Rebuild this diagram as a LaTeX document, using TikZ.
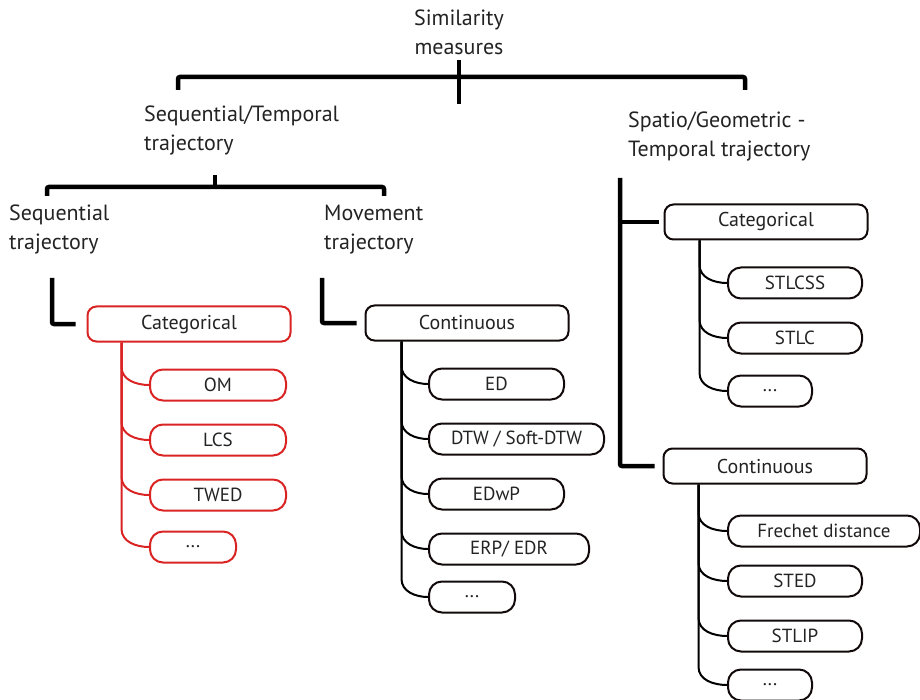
\documentclass[tikz,border=0pt]{standalone}
\usepackage{fontspec}
\setmainfont{PT Sans}
\usetikzlibrary{calc,positioning}
\definecolor{catred}{RGB}{218,36,36}
\definecolor{edgeline}{RGB}{18,10,10}
\definecolor{labeltext}{RGB}{35,35,35}
\tikzset{heading/.style={align=left,inner sep=0pt,text=labeltext,
 font=\fontsize{22}{29}\selectfont},
 bracket/.style={line width=4.5pt,rounded corners=2pt},
 groupbox/.style={draw=edgeline,fill=white,line width=2pt,rounded corners=9pt,
 minimum width=203pt,minimum height=35pt,text=labeltext,font=\fontsize{20}{22}\selectfont},
 leafbox/.style={draw=edgeline,fill=white,line width=2pt,rounded corners=13pt,
 minimum height=31pt,anchor=west,inner sep=0pt,text=labeltext,font=\fontsize{19}{21}\selectfont},
 branch/.style={line width=2pt}}
\newcommand{\etcdots}{.\kern1pt.\kern1pt.}

\begin{document}
\begin{tikzpicture}[x=1pt,y=-1pt]
\useasboundingbox (0,0) rectangle (920,700);
% headings
\node[heading,align=center] (sim) at (459,32) {Similarity\\measures};
\node[heading,anchor=west] (seqtemp) at (144,131) {Sequential/Temporal\\trajectory};
\node[heading,anchor=west] (spatio) at (628,137) {Spatio/Geometric -\\Temporal trajectory};
\node[heading,anchor=west] (seqtraj) at (9,230) {Sequential\\trajectory};
\node[heading,anchor=west] (movtraj) at (324,230) {Movement\\trajectory};
% brackets
\draw[bracket] (178,90) |- (745,77) -- (745,90);
\draw[bracket] (sim.south |- 0,60) -- (sim.south |- 0,104);
\draw[bracket] (47,196) |- (384,187) -- (384,196);
\draw[bracket] (215,175) -- (215,187);
% group boxes
\node[groupbox,draw=catred] (scat) at (189,324) {Categorical};
\node[groupbox] (mcon) at (467,323) {Continuous};
\node[groupbox] (rcat) at (766,222) {Categorical};
\node[groupbox] (rcon) at (765,466) {Continuous};
\draw[bracket] (52,278) |- ([xshift=-11pt]scat.west);
\draw[bracket] (322,278) |- ([xshift=-8pt]mcon.west);
\draw[bracket] (620,178) |- ([xshift=-8pt]rcon.west);
\draw[bracket] (620,0 |- rcat.west) -- ([xshift=-5pt]rcat.west);
% trunks
\coordinate (strunk) at ($(scat.south west)+(35,0)$);
\coordinate (mtrunk) at ($(mcon.south west)+(37,0)$);
\coordinate (rtrunk) at ($(rcat.south west)+(36,0)$);
\coordinate (ctrunk) at ($(rcon.south west)+(36,0)$);
% leaves
\foreach \name/\txt/\w/\y in {om/OM/136/385,lcs/LCS/136/440,twed/TWED/136/495,sdots/\etcdots/86/547} {
 \draw[branch,catred] (strunk) -- ($(strunk |- 0,\y)+(0,-18)$) to[out=-90,in=180] (149,\y);
 \node[leafbox,draw=catred,minimum width=\w pt] (\name) at (149,\y) {\txt};
}
\foreach \name/\txt/\w/\y in {ed/ED/135/384,dtw/{DTW / Soft-DTW}/175/439,edwp/EDwP/135/494,
 erp/{ERP/ EDR}/160/549,mdots/\etcdots/86/597} {
 \draw[branch] (mtrunk) -- ($(mtrunk |- 0,\y)+(0,-18)$) to[out=-90,in=180] (428,\y);
 \node[leafbox,minimum width=\w pt] (\name) at (428,\y) {\txt};
}
\foreach \name/\txt/\w/\y in {stlcss/STLCSS/134/283,stlc/STLC/134/338,rdots/\etcdots/84/391} {
 \draw[branch] (rtrunk) -- ($(rtrunk |- 0,\y)+(0,-18)$) to[out=-90,in=180] (727,\y);
 \node[leafbox,minimum width=\w pt] (\name) at (727,\y) {\txt};
}
\foreach \name/\txt/\w/\y in {frechet/Frechet distance/192/531,sted/STED/134/581,
 stlip/STLIP/134/636,cdots/\etcdots/84/685} {
 \draw[branch] (ctrunk) -- ($(ctrunk |- 0,\y)+(0,-18)$) to[out=-90,in=180] (727,\y);
 \node[leafbox,minimum width=\w pt] (\name) at (727,\y) {\txt};
}
\end{tikzpicture}
\end{document}
